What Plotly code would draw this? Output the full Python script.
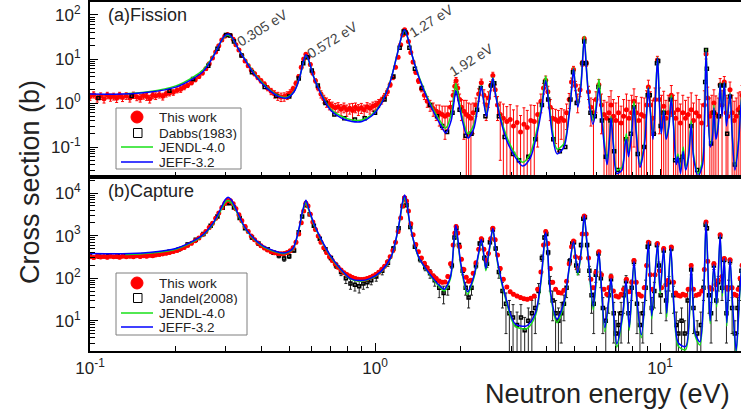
import plotly.graph_objects as go

# ---------------- data ----------------
# Fission cross section curves (E in eV, sigma in b)
fission_jeff = [(0.10,1.6),(0.13,1.6),(0.16,1.75),(0.20,2.3),(0.23,3.6),(0.25,5.3),(0.27,11),(0.285,22),(0.295,32),(0.305,37),(0.315,31),(0.33,18),(0.35,9.5),(0.38,4.2),(0.42,2.1),(0.46,1.4),(0.49,1.3),(0.52,1.8),(0.545,4.0),(0.56,8.5),(0.572,12.5),(0.585,9.5),(0.61,3.8),(0.65,1.5),(0.70,0.68),(0.76,0.46),(0.83,0.38),(0.90,0.38),(0.97,0.5),(1.05,0.95),(1.13,3.0),(1.20,14),(1.24,33),(1.27,46),(1.30,32),(1.35,12),(1.43,3.6),(1.55,1.0),(1.68,0.36),(1.77,0.21),(1.85,0.4),(1.89,1.0),(1.92,1.9),(1.95,1.3),(2.02,0.42),(2.12,0.16),(2.22,0.26),(2.30,0.9),(2.36,2.4),(2.41,1.0),(2.46,0.5),(2.52,1.2),(2.59,3.7),(2.65,1.5),(2.75,0.45),(2.9,0.14),(3.1,0.06),(3.3,0.037),(3.5,0.055),(3.7,0.2),(3.85,0.8),(3.97,3.2),(4.08,0.8),(4.2,0.17),(4.35,0.07),(4.6,0.1),(4.8,0.55),(4.9,2.2),(4.97,5.9),(5.05,2.0),(5.15,0.8),(5.28,2.5),(5.42,28),(5.52,5.5),(5.65,0.9),(5.82,0.33),(5.98,0.8),(6.1,2.2),(6.22,0.6),(6.38,0.1),(6.52,0.04),(6.65,0.15),(6.73,0.46),(6.85,0.12),(7.05,0.025),(7.35,0.03),(7.55,0.12),(7.62,0.15),(7.75,0.06),(7.95,0.2),(8.1,0.85),(8.25,0.2),(8.5,0.035),(8.8,0.1),(9.0,0.8),(9.1,2.2),(9.25,0.6),(9.45,0.15),(9.65,1.5),(9.8,10.5),(9.95,1.0),(10.1,0.2),(10.3,0.66),(10.5,0.15),(10.75,0.3),(10.95,1.3),(11.15,0.3),(11.4,0.04),(11.55,0.06),(11.8,0.025),(12.05,0.08),(12.3,0.03),(12.6,0.06),(12.86,0.33),(13.1,0.06),(13.6,0.022),(14.1,0.04),(14.35,0.6),(14.5,15),(14.7,1.0),(15.0,0.1),(15.25,0.15),(15.45,0.77),(15.7,0.15),(16.0,0.3),(16.25,2.7),(16.5,0.5),(16.8,2.9),(17.1,0.3),(17.6,1.6),(17.9,0.2),(18.3,0.03),(18.8,0.1),(19.2,0.77),(19.6,3.0)]

fission_jendl = [(0.133,1.62),(0.16,1.8),(0.20,2.45),(0.23,3.9),(0.25,5.8),(0.27,11.5),(0.285,22),(0.295,31),(0.305,35),(0.315,30),(0.33,18),(0.35,9.8),(0.38,4.4),(0.42,2.2),(0.46,1.45),(0.49,1.35),(0.52,1.85),(0.545,4.0),(0.56,8.2),(0.572,12),(0.585,9.2),(0.61,3.9),(0.65,1.55),(0.70,0.72),(0.76,0.5),(0.83,0.41),(0.90,0.41),(0.97,0.53),(1.05,1.0),(1.13,3.1),(1.20,14),(1.24,32),(1.27,44),(1.30,31),(1.35,12),(1.43,3.8),(1.55,1.1),(1.68,0.42),(1.77,0.27),(1.85,0.55),(1.89,1.4),(1.92,2.8),(1.95,1.7),(2.02,0.5),(2.12,0.2),(2.22,0.32),(2.30,1.0),(2.36,2.5),(2.41,1.1),(2.46,0.55),(2.52,1.3),(2.59,3.8),(2.65,1.6),(2.75,0.5),(2.9,0.17),(3.1,0.07),(3.3,0.045),(3.5,0.07),(3.7,0.25),(3.85,1.0),(3.97,4.1),(4.08,1.0),(4.2,0.22),(4.35,0.09),(4.6,0.12),(4.8,0.6),(4.9,2.4),(4.97,6.3),(5.05,2.2),(5.15,0.9),(5.28,2.8),(5.42,33),(5.52,6),(5.65,1.0),(5.82,0.4),(5.98,1.0),(6.1,3.5),(6.22,0.8),(6.38,0.13),(6.52,0.05),(6.65,0.18),(6.73,0.5),(6.85,0.14),(7.05,0.03),(7.35,0.035),(7.55,0.14),(7.62,0.2),(7.75,0.07),(7.95,0.25),(8.1,1.1),(8.25,0.25),(8.5,0.04),(8.8,0.12),(9.0,0.9),(9.1,2.3),(9.25,0.7),(9.45,0.17),(9.65,1.6),(9.8,11),(9.95,1.1),(10.1,0.22),(10.3,0.7),(10.5,0.17),(10.75,0.35),(10.95,1.5),(11.15,0.35),(11.4,0.045),(11.55,0.07),(11.8,0.03),(12.05,0.1),(12.3,0.035),(12.6,0.07),(12.86,0.4),(13.1,0.07),(13.6,0.025),(14.1,0.05),(14.35,0.7),(14.5,17),(14.7,1.1),(15.0,0.12),(15.25,0.17),(15.45,0.9),(15.7,0.17),(16.0,0.35),(16.25,2.9),(16.5,0.55),(16.8,3.0),(17.1,0.35),(17.6,1.7),(17.9,0.22),(18.3,0.035),(18.8,0.12),(19.2,0.85),(19.6,3.2)]

# Capture cross section curves
capture_jeff = [(0.10,380),(0.13,375),(0.16,400),(0.20,500),(0.245,960),(0.27,1950),(0.288,4400),(0.298,7000),(0.305,8000),(0.313,7000),(0.325,4200),(0.353,1400),(0.398,620),(0.45,425),(0.48,390),(0.515,500),(0.54,1400),(0.558,4000),(0.572,6800),(0.586,4200),(0.61,1950),(0.645,860),(0.70,325),(0.76,160),(0.82,98),(0.89,88),(0.96,98),(1.05,145),(1.14,325),(1.21,1660),(1.245,5500),(1.27,9000),(1.295,5500),(1.33,1660),(1.42,325),(1.55,130),(1.70,63),(1.75,55),(1.84,110),(1.89,700),(1.92,1750),(1.95,900),(2.0,220),(2.11,48),(2.22,110),(2.31,400),(2.36,820),(2.41,350),(2.45,170),(2.52,500),(2.59,1500),(2.64,600),(2.7,220),(2.87,37),(3.1,8.5),(3.4,7.6),(3.65,15),(3.82,88),(3.92,600),(3.97,1200),(4.03,500),(4.12,51),(4.35,11),(4.6,27),(4.8,180),(4.97,730),(5.14,135),(5.3,500),(5.42,3000),(5.52,900),(5.6,305),(5.83,22),(6.0,150),(6.1,400),(6.2,100),(6.4,6.9),(6.6,30),(6.73,100),(6.85,20),(7.05,2.9),(7.4,15),(7.6,90),(7.8,7),(8.1,250),(8.3,30),(8.6,4.7),(8.9,60),(9.1,720),(9.35,13),(9.8,660),(10.0,50),(10.3,500),(10.55,15),(10.9,530),(11.2,20),(11.6,3),(12.3,2.5),(12.86,180),(13.3,5),(13.8,3.2),(14.2,30),(14.5,2100),(14.8,60),(15.0,10),(15.45,210),(15.8,25),(16.25,1070),(16.55,45),(16.8,290),(17.15,9),(17.6,275),(18.0,20),(18.5,2),(19.0,40),(19.3,160),(19.6,800)]

capture_jendl = [(0.133,360),(0.16,385),(0.20,480),(0.245,920),(0.27,1850),(0.288,4000),(0.298,6000),(0.305,6700),(0.313,6000),(0.325,3900),(0.353,1350),(0.398,600),(0.45,410),(0.48,375),(0.515,480),(0.54,1350),(0.558,3700),(0.572,6000),(0.586,3900),(0.61,1850),(0.645,830),(0.70,315),(0.76,155),(0.82,95),(0.89,85),(0.96,95),(1.05,140),(1.14,315),(1.21,1600),(1.245,5000),(1.27,8000),(1.295,5000),(1.33,1600),(1.42,315),(1.55,125),(1.70,58),(1.75,50),(1.84,100),(1.89,620),(1.92,1550),(1.95,800),(2.0,200),(2.11,42),(2.22,100),(2.31,370),(2.36,760),(2.41,320),(2.45,150),(2.52,460),(2.59,1400),(2.64,550),(2.7,200),(2.87,33),(3.1,7.5),(3.4,6.5),(3.65,13),(3.82,80),(3.92,560),(3.97,1100),(4.03,460),(4.12,45),(4.35,9),(4.6,24),(4.8,165),(4.97,680),(5.14,120),(5.3,460),(5.42,2800),(5.52,820),(5.6,280),(5.83,18),(6.0,135),(6.1,370),(6.2,90),(6.4,5.5),(6.6,27),(6.73,92),(6.85,17),(7.05,2.4),(7.4,13),(7.6,85),(7.8,6),(8.1,230),(8.3,26),(8.6,4),(8.9,55),(9.1,680),(9.35,11),(9.8,620),(10.0,42),(10.3,470),(10.55,12),(10.9,500),(11.2,17),(11.6,2.5),(12.3,2.1),(12.86,165),(13.3,4.3),(13.8,2.7),(14.2,26),(14.5,2000),(14.8,52),(15.0,8.5),(15.45,195),(15.8,21),(16.25,1000),(16.55,38),(16.8,270),(17.15,7.5),(17.6,255),(18.0,17),(18.5,1.7),(19.0,35),(19.3,150),(19.6,750)]

# This work, fission (E, sigma, error)
fission_this_work = [(0.100,1.40,0.25),(0.103,1.55,0.25),(0.106,1.30,0.25),(0.109,1.45,0.25),(0.112,1.25,0.25),(0.115,1.50,0.25),(0.118,1.35,0.25),(0.121,1.42,0.25),(0.124,1.28,0.25),(0.127,1.50,0.25),(0.130,1.33,0.25),(0.134,1.46,0.25),(0.138,1.30,0.25),(0.142,1.52,0.25),(0.146,1.38,0.25),(0.150,1.30,0.25),(0.154,1.48,0.25),(0.158,1.40,0.25),(0.162,1.25,0.25),(0.166,1.50,0.25),(0.170,1.45,0.25),(0.175,1.55,0.25),(0.180,1.42,0.25),(0.185,1.62,0.25),(0.190,1.70,0.25),(0.196,1.75,0.25),(0.202,1.95,0.25),(0.208,2.05,0.3),(0.214,2.30,0.3),(0.220,2.55,0.3),(0.227,2.90,0.3),(0.234,3.40,0.35),(0.241,4.00,0.4),(0.248,4.80,0.45),(0.255,6.0,0.5),(0.262,7.8,0.6),(0.269,10.5,0.8),(0.276,14.5,1.0),(0.283,20,1.3),(0.290,27,1.6),(0.297,33,2),(0.304,36,2),(0.311,34,2),(0.318,28,1.8),(0.325,21,1.4),(0.333,16,1.1),(0.341,12,0.9),(0.350,9.0,0.7),(0.359,7.0,0.6),(0.368,5.6,0.5),(0.378,4.6,0.45),(0.388,3.8,0.4),(0.398,3.2,0.35),(0.409,2.7,0.3),(0.420,2.2,0.3),(0.432,1.85,0.3),(0.444,1.6,0.3),(0.456,1.45,0.3),(0.468,1.38,0.3),(0.480,1.40,0.3),(0.492,1.50,0.3),(0.504,1.70,0.3),(0.516,2.1,0.3),(0.528,2.8,0.35),(0.540,4.0,0.4),(0.551,6.5,0.5),(0.562,10,0.7),(0.572,12.8,0.8),(0.582,11,0.7),(0.593,7.5,0.6),(0.605,4.8,0.45),(0.618,3.2,0.35),(0.632,2.2,0.3),(0.646,1.6,0.3),(0.661,1.25,0.25),(0.676,1.05,0.25),(0.692,0.95,0.25),(0.708,0.85,0.2),(0.725,0.78,0.2),(0.742,0.82,0.2),(0.760,0.72,0.2),(0.778,0.80,0.2),(0.796,0.70,0.2),(0.815,0.76,0.2),(0.834,0.68,0.3),(0.854,0.80,0.2),(0.874,0.72,0.2),(0.895,0.78,0.2),(0.916,0.70,0.2),(0.938,0.82,0.2),(0.960,0.76,0.2),(0.983,0.85,0.2),(1.006,0.90,0.2),(1.030,1.00,0.2),(1.055,1.15,0.2),(1.080,1.40,0.25),(1.105,1.80,0.3),(1.130,2.6,0.3),(1.155,3.8,0.4),(1.180,6.5,0.5),(1.205,11,0.8),(1.230,21,1.3),(1.250,35,2),(1.270,46,3),(1.290,38,2.5),(1.310,25,1.6),(1.335,14,1),(1.360,8.5,0.7),(1.390,5,0.5),(1.420,3.2,0.4),(1.455,2.1,0.3),(1.490,1.5,0.3),(1.525,1.1,0.3),(1.560,0.9,0.25),(1.600,0.75,0.25),(1.640,0.65,0.25),(1.680,0.60,0.3),(1.720,0.55,0.3),(1.760,0.50,0.35),(1.800,0.55,0.3),(1.840,0.8,0.3),(1.880,1.5,0.4),(1.905,2.4,0.5),(1.925,3.2,0.6),(1.950,2.2,0.5),(1.980,1.2,0.4),(2.010,0.8,0.4),(2.050,0.65,0.5),(2.090,0.55,0.6),(2.130,0.5,0.5),(2.170,0.45,0.5),(2.210,0.6,0.4),(2.260,0.9,0.4),(2.310,1.6,0.5),(2.360,2.9,0.6),(2.410,1.5,0.5),(2.455,0.9,0.5),(2.500,1.3,0.5),(2.545,2.5,0.6),(2.590,4.2,0.8),(2.640,2.0,0.6),(2.690,0.9,0.5),(2.750,0.55,0.5),(2.820,0.45,0.5),(2.900,0.38,0.45),(2.980,0.42,0.5),(3.060,0.30,0.4),(3.150,0.36,0.5),(3.240,0.22,0.3),(3.330,0.33,0.45),(3.420,0.28,0.4),(3.520,0.40,0.5),(3.620,0.38,0.5),(3.720,0.55,0.45),(3.820,1.1,0.5),(3.900,2.2,0.6),(3.970,3.3,0.8),(4.040,1.8,0.6),(4.120,0.8,0.4),(4.200,0.45,0.3),(4.300,0.42,0.3),(4.400,0.38,0.3),(4.500,0.45,0.3),(4.600,0.40,0.3),(4.700,0.6,0.35),(4.800,1.2,0.45),(4.890,3.0,0.7),(4.970,5.8,1),(5.050,2.5,0.6),(5.140,1.1,0.5),(5.240,2.0,0.6),(5.330,8,1.2),(5.420,29,3),(5.510,8,1.2),(5.610,1.8,0.6),(5.720,0.8,0.5),(5.840,0.6,0.6),(5.960,1.2,0.6),(6.100,2.6,0.8),(6.230,0.9,0.7),(6.360,0.55,0.6),(6.500,0.45,0.6),(6.620,0.6,0.8),(6.730,0.9,1),(6.860,0.5,0.7),(7.000,0.4,0.6),(7.150,0.6,0.8),(7.300,0.35,0.5),(7.450,0.5,0.7),(7.620,0.7,0.9),(7.780,0.45,0.7),(7.950,0.6,0.9),(8.100,1.1,1),(8.250,0.6,0.8),(8.420,0.4,0.6),(8.600,0.55,0.8),(8.800,0.5,0.8),(8.970,0.9,1),(9.100,2.3,1),(9.250,0.9,0.9),(9.420,0.45,0.7),(9.600,1.2,1),(9.790,9.5,2),(9.950,1.2,1),(10.120,0.6,0.9),(10.300,0.85,1),(10.480,0.45,0.7),(10.680,0.6,0.9),(10.950,1.5,1),(11.150,0.6,0.9),(11.350,0.45,0.7),(11.550,0.7,1),(11.780,0.35,0.6),(12.020,0.6,0.9),(12.280,0.45,0.7),(12.550,0.55,0.8),(12.860,0.7,1),(13.100,0.4,0.6),(13.400,0.6,0.9),(13.700,0.5,0.7),(14.000,0.35,0.6),(14.300,0.9,1),(14.500,13,3),(14.700,1.3,1),(14.950,0.5,0.8),(15.200,0.6,0.9),(15.450,1.0,1),(15.700,0.55,0.9),(16.000,0.5,0.8),(16.250,2.6,1),(16.500,0.9,1),(16.800,3.0,1),(17.050,0.6,0.9),(17.300,0.5,0.8),(17.600,2.0,1),(17.900,0.6,0.9),(18.200,0.4,0.7),(18.500,0.5,0.8),(18.800,0.7,1),(19.100,0.8,1),(19.400,1.5,1)]

# Dabbs (1983), fission (E, sigma)
fission_dabbs = [(0.107,1.3),(0.14,1.45),(0.19,1.9),(0.23,3.5),(0.26,7),(0.28,17),(0.30,35),(0.31,34),(0.32,25),(0.34,12),(0.37,5),(0.41,2.3),(0.45,1.45),(0.50,1.4),(0.54,3.6),(0.56,8),(0.58,11),(0.60,5.5),(0.63,2.5),(0.67,1.0),(0.72,0.55),(0.78,0.45),(0.85,0.42),(0.92,0.45),(1.0,0.6),(1.08,1.2),(1.16,4),(1.22,18),(1.26,42),(1.28,40),(1.32,18),(1.38,6),(1.46,2.2),(1.56,0.9),(1.65,0.5),(1.72,0.3),(1.79,0.22),(1.87,0.6),(1.93,1.7),(1.98,0.7),(2.08,0.18),(2.18,0.2),(2.28,0.7),(2.35,2.2),(2.44,0.5),(2.56,2.5),(2.62,2.8),(2.72,0.5),(2.85,0.17),(3.05,0.07),(3.2,0.05),(3.45,0.06),(3.65,0.15),(3.85,0.9),(3.95,3),(4.05,1.2),(4.22,0.15),(4.45,0.08),(4.65,0.1),(4.85,1.2),(4.95,5),(5.1,1.0),(5.35,8),(5.42,25),(5.5,8),(5.7,0.6),(5.9,0.5),(6.08,2.3),(6.25,0.4),(6.45,0.06),(6.7,0.4),(6.9,0.08),(7.1,0.03),(7.6,0.15),(7.9,0.2),(8.1,0.8),(8.35,0.07),(8.8,0.1),(9.05,1.5),(9.2,1.5),(9.5,0.2),(9.75,8),(9.85,9),(10.05,0.3),(10.3,0.6),(10.9,1.2),(11.3,0.05),(11.6,0.05),(12.0,0.06),(12.85,0.3),(13.5,0.03),(14.4,3),(14.5,16),(14.6,6),(15.1,0.12),(15.45,0.6),(16.1,0.5),(16.25,2.5),(16.8,2.5),(17.2,0.2),(17.6,1.4),(18.3,0.04),(19.2,0.6)]

# This work, capture (E, sigma)
capture_this_work = [(0.100,320),(0.103,305),(0.106,330),(0.109,315),(0.112,325),(0.115,310),(0.118,330),(0.121,318),(0.124,325),(0.127,312),(0.130,330),(0.134,320),(0.138,328),(0.142,318),(0.146,335),(0.150,325),(0.154,338),(0.158,330),(0.162,345),(0.166,338),(0.170,352),(0.175,360),(0.180,372),(0.185,385),(0.190,400),(0.196,425),(0.202,450),(0.208,490),(0.214,530),(0.220,590),(0.227,660),(0.234,760),(0.241,880),(0.248,1050),(0.255,1250),(0.262,1550),(0.269,1950),(0.276,2550),(0.283,3400),(0.290,4500),(0.297,5700),(0.304,6700),(0.311,6600),(0.318,5600),(0.325,4300),(0.333,3100),(0.341,2250),(0.350,1650),(0.359,1250),(0.368,980),(0.378,800),(0.388,670),(0.398,580),(0.409,510),(0.420,460),(0.432,420),(0.444,395),(0.456,380),(0.468,375),(0.480,380),(0.492,400),(0.504,440),(0.516,520),(0.528,700),(0.540,1100),(0.551,2000),(0.562,3800),(0.572,5800),(0.582,5000),(0.593,3200),(0.605,2100),(0.618,1400),(0.632,980),(0.646,700),(0.661,520),(0.676,400),(0.692,320),(0.708,260),(0.725,215),(0.742,180),(0.760,155),(0.778,135),(0.796,122),(0.815,112),(0.834,104),(0.854,98),(0.874,95),(0.895,93),(0.916,95),(0.938,98),(0.960,104),(0.983,112),(1.006,122),(1.030,138),(1.055,160),(1.080,190),(1.105,240),(1.130,320),(1.155,450),(1.180,700),(1.205,1250),(1.230,2600),(1.250,5000),(1.270,7800),(1.290,6500),(1.310,3800),(1.335,1900),(1.360,1050),(1.390,620),(1.420,420),(1.455,300),(1.490,225),(1.525,175),(1.560,140),(1.600,115),(1.640,98),(1.680,86),(1.720,80),(1.760,82),(1.800,110),(1.840,220),(1.880,600),(1.905,1150),(1.925,1650),(1.950,1150),(1.980,550),(2.010,280),(2.050,160),(2.090,105),(2.130,85),(2.170,90),(2.210,130),(2.260,230),(2.310,480),(2.360,850),(2.410,480),(2.455,260),(2.500,380),(2.545,850),(2.590,1500),(2.640,800),(2.690,350),(2.750,170),(2.820,95),(2.900,62),(2.980,48),(3.060,42),(3.150,38),(3.240,35),(3.330,33),(3.420,32),(3.520,34),(3.620,38),(3.720,55),(3.820,140),(3.900,600),(3.970,1250),(4.040,650),(4.120,170),(4.200,80),(4.300,55),(4.400,46),(4.500,45),(4.600,52),(4.700,85),(4.800,220),(4.890,550),(4.970,750),(5.050,320),(5.140,170),(5.240,300),(5.330,1100),(5.420,2900),(5.510,1100),(5.610,300),(5.720,95),(5.840,60),(5.960,140),(6.100,420),(6.230,120),(6.360,55),(6.500,42),(6.620,60),(6.730,110),(6.860,50),(7.000,38),(7.150,36),(7.300,42),(7.450,55),(7.620,95),(7.780,48),(7.950,80),(8.100,260),(8.250,80),(8.420,42),(8.600,38),(8.800,60),(8.970,200),(9.100,700),(9.250,120),(9.420,55),(9.600,120),(9.790,650),(9.950,150),(10.120,60),(10.300,500),(10.480,70),(10.680,90),(10.950,540),(11.150,80),(11.350,45),(11.550,40),(11.780,38),(12.020,42),(12.280,40),(12.550,55),(12.860,200),(13.100,55),(13.400,40),(13.700,42),(14.000,50),(14.300,160),(14.500,2100),(14.700,250),(14.950,60),(15.200,55),(15.450,220),(15.700,70),(16.000,90),(16.250,1050),(16.500,110),(16.800,290),(17.050,60),(17.300,55),(17.600,270),(17.900,60),(18.200,42),(18.500,40),(18.800,55),(19.100,100),(19.400,200)]

# Jandel (2008), capture (E, sigma, error)
capture_jandel = [(0.100,330,30),(0.108,320,30),(0.116,340,30),(0.125,330,30),(0.134,345,30),(0.144,335,30),(0.154,350,30),(0.165,360,30),(0.177,380,30),(0.19,420,35),(0.205,480,40),(0.22,620,50),(0.235,800,60),(0.25,1100,80),(0.265,1700,100),(0.28,2800,150),(0.292,4500,250),(0.30,5800,300),(0.31,5800,300),(0.32,4600,250),(0.335,2600,150),(0.35,1500,100),(0.37,900,70),(0.39,650,50),(0.42,480,40),(0.44,400,40),(0.46,340,40),(0.48,290,40),(0.50,330,40),(0.52,450,40),(0.54,1200,80),(0.555,2800,150),(0.572,5200,300),(0.59,3200,200),(0.61,1700,100),(0.64,850,60),(0.67,480,40),(0.70,300,30),(0.73,200,30),(0.76,140,25),(0.79,100,25),(0.82,75,20),(0.85,70,20),(0.88,65,20),(0.91,75,20),(0.94,80,20),(0.97,90,20),(1.01,110,25),(1.06,150,30),(1.11,230,40),(1.16,500,50),(1.21,1500,100),(1.25,5000,300),(1.27,7500,400),(1.29,5200,300),(1.33,1600,100),(1.38,550,50),(1.44,280,40),(1.50,180,30),(1.56,130,30),(1.62,90,25),(1.68,60,25),(1.74,45,20),(1.80,60,20),(1.86,200,30),(1.90,900,80),(1.93,1500,100),(1.97,600,60),(2.03,150,30),(2.08,60,20),(2.13,35,15),(2.18,60,20),(2.26,200,30),(2.33,650,60),(2.37,780,60),(2.42,300,40),(2.47,220,40),(2.53,700,60),(2.59,1400,100),(2.65,500,50),(2.72,140,40),(2.80,50,30),(2.88,25,20),(2.96,15,15),(3.05,12,12),(3.15,8,8),(3.25,12,12),(3.35,6,6),(3.45,10,10),(3.55,15,15),(3.65,20,15),(3.75,50,25),(3.85,300,50),(3.93,900,80),(3.99,1100,100),(4.05,400,50),(4.12,80,30),(4.2,30,20),(4.3,15,15),(4.4,10,10),(4.5,15,12),(4.6,25,15),(4.7,60,25),(4.82,250,40),(4.92,650,60),(4.99,700,60),(5.08,200,40),(5.16,150,30),(5.28,600,60),(5.38,2500,200),(5.45,2700,200),(5.55,600,60),(5.65,150,40),(5.75,40,25),(5.85,25,20),(5.95,120,40),(6.08,380,50),(6.2,100,40),(6.3,20,15),(6.45,10,10),(6.6,40,25),(6.73,95,30),(6.88,15,12),(7.0,5,5),(7.15,8,8),(7.3,15,12),(7.45,40,25),(7.6,85,30),(7.75,15,12),(7.95,60,30),(8.1,240,40),(8.3,25,20),(8.5,8,8),(8.7,15,12),(8.9,60,30),(9.05,550,60),(9.15,650,60),(9.35,20,15),(9.55,50,30),(9.75,600,60),(9.9,200,40),(10.05,40,25),(10.3,450,50),(10.5,30,20),(10.75,80,30),(10.95,500,60),(11.15,40,25),(11.4,8,8),(11.6,5,5),(11.9,10,10),(12.2,5,5),(12.5,30,25),(12.86,160,40),(13.1,20,15),(13.5,5,5),(13.9,8,8),(14.2,60,30),(14.45,1800,150),(14.6,1500,150),(14.85,40,25),(15.1,15,12),(15.45,200,40),(15.75,30,20),(16.0,80,30),(16.25,950,100),(16.5,60,30),(16.8,270,40),(17.1,15,12),(17.4,60,30),(17.6,250,40),(17.9,20,15),(18.3,5,5),(18.7,20,15),(19.0,60,30),(19.3,150,40)]

# Tick labels and texts
x_tick_vals = [0.1, 1, 10]
x_tick_text = ["10<sup>-1</sup>", "10<sup>0</sup>", "10<sup>1</sup>"]
fis_tick_vals = [0.1, 1, 10, 100]
fis_tick_text = ["10<sup>-1</sup>", "10<sup>0</sup>", "10<sup>1</sup>", "10<sup>2</sup>"]
cap_tick_vals = [10, 100, 1000, 10000]
cap_tick_text = ["10<sup>1</sup>", "10<sup>2</sup>", "10<sup>3</sup>", "10<sup>4</sup>"]
peak_labels = ["0.305 eV", "0.572 eV", "1.27 eV", "1.92 eV"]
legend_top = ["This work", "Dabbs(1983)", "JENDL-4.0", "JEFF-3.2"]
legend_bottom = ["This work", "Jandel(2008)", "JENDL-4.0", "JEFF-3.2"]

# ---------------- layout helpers ----------------
W, H = 741, 412
ML, MR, MT, MB = 90, 0, 2, 61
PW, PH = W - ML - MR, H - MT - MB


def fx(px):
    return (px - ML) / PW


def fy(py):
    return (H - MB - py) / PH


SPLIT = fy(177)
FONT = "Liberation Sans, Arial, sans-serif"
TXT = "#222222"
RED, GREEN, BLUE, BLK = "#ff0000", "#19e019", "#0000ff", "#000000"


def cols(rows):
    return [list(c) for c in zip(*rows)]


def minor_vals(lo_dec, hi_dec):
    return [m * 10 ** d for d in range(lo_dec, hi_dec + 1) for m in range(2, 10)]


fig = go.Figure()

# ---- top panel: fission ----
e, s, er = cols(fission_this_work)
fig.add_trace(go.Scatter(x=e, y=s, mode="markers", xaxis="x", yaxis="y",
                         marker=dict(color=RED, size=5),
                         error_y=dict(type="data", array=er, color=RED, thickness=1, width=1.5),
                         showlegend=False))
e, s = cols(fission_dabbs)
fig.add_trace(go.Scatter(x=e, y=s, mode="markers", xaxis="x", yaxis="y",
                         marker=dict(symbol="square-open", color=BLK, size=3, line=dict(width=1.5)),
                         showlegend=False))
e, s = cols(fission_jendl)
fig.add_trace(go.Scatter(x=e, y=s, mode="lines", xaxis="x", yaxis="y",
                         line=dict(color=GREEN, width=1.5, shape="spline", smoothing=0.8), showlegend=False))
e, s = cols(fission_jeff)
fig.add_trace(go.Scatter(x=e, y=s, mode="lines", xaxis="x", yaxis="y",
                         line=dict(color=BLUE, width=1.5, shape="spline", smoothing=0.8), showlegend=False))

# ---- bottom panel: capture ----
e, s, er = cols(capture_jandel)
fig.add_trace(go.Scatter(x=e, y=s, mode="markers", xaxis="x2", yaxis="y2",
                         marker=dict(symbol="square-open", color=BLK, size=3, line=dict(width=1.5)),
                         error_y=dict(type="data", array=er, color="#222222", thickness=1, width=1.5),
                         showlegend=False))
e, s = cols(capture_this_work)
fig.add_trace(go.Scatter(x=e, y=s, mode="markers", xaxis="x2", yaxis="y2",
                         marker=dict(color=RED, size=5),
                         error_y=dict(type="percent", value=8, color=RED, thickness=1, width=1.5),
                         showlegend=False))
e, s = cols(capture_jendl)
fig.add_trace(go.Scatter(x=e, y=s, mode="lines", xaxis="x2", yaxis="y2",
                         line=dict(color=GREEN, width=1.5, shape="spline", smoothing=0.8), showlegend=False))
e, s = cols(capture_jeff)
fig.add_trace(go.Scatter(x=e, y=s, mode="lines", xaxis="x2", yaxis="y2",
                         line=dict(color=BLUE, width=1.5, shape="spline", smoothing=0.8), showlegend=False))

axis_common = dict(type="log", showline=True, linecolor="black", linewidth=2,
                   ticks="inside", ticklen=8, tickwidth=1, tickcolor="black",
                   showgrid=False, zeroline=False,
                   tickfont=dict(family=FONT, size=17, color=TXT))
x_minor = dict(tickmode="array", tickvals=minor_vals(-1, 1), ticks="inside",
               ticklen=5, tickwidth=1, tickcolor="black")

fig.update_layout(
    width=W, height=H,
    margin=dict(l=ML, r=MR, t=MT, b=MB),
    paper_bgcolor="white", plot_bgcolor="white",
    showlegend=False,
    font=dict(family=FONT, color=TXT),
    xaxis=dict(axis_common, domain=[0, 1], anchor="y", range=[-1, 1.284], mirror=True,
               tickvals=x_tick_vals, ticktext=x_tick_text, showticklabels=False, minor=x_minor),
    xaxis2=dict(axis_common, domain=[0, 1], anchor="y2", range=[-1, 1.284], mirror=True,
                matches="x", tickvals=x_tick_vals, ticktext=x_tick_text, minor=x_minor,
                ticklabelstandoff=1),
    yaxis=dict(axis_common, domain=[SPLIT, 1], anchor="x", range=[-1.68, 2.295],
               tickvals=fis_tick_vals, ticktext=fis_tick_text, ticklabelstandoff=4,
               minor=dict(tickmode="array", tickvals=minor_vals(-2, 2), ticks="inside",
                          ticklen=5, tickwidth=1, tickcolor="black")),
    yaxis2=dict(axis_common, domain=[0, SPLIT], anchor="x2", range=[0.29, 4.378],
                tickvals=cap_tick_vals, ticktext=cap_tick_text, ticklabelstandoff=4,
                minor=dict(tickmode="array", tickvals=minor_vals(0, 4), ticks="inside",
                           ticklen=5, tickwidth=1, tickcolor="black")),
)

ann = []
shapes = []

# panel labels
ann.append(dict(text="(a)Fission", x=fx(106), y=fy(15), xref="paper", yref="paper",
                xanchor="left", yanchor="middle", showarrow=False,
                font=dict(family=FONT, size=18, color=TXT)))
ann.append(dict(text="(b)Capture", x=fx(106), y=fy(191), xref="paper", yref="paper",
                xanchor="left", yanchor="middle", showarrow=False,
                font=dict(family=FONT, size=18, color=TXT)))

# resonance labels
for txt, (cx, cy) in zip(peak_labels, [(262, 28), (332, 40), (431, 21), (471, 60)]):
    ann.append(dict(text=txt, x=fx(cx), y=fy(cy), xref="paper", yref="paper",
                    xanchor="center", yanchor="middle", showarrow=False, textangle=-32,
                    font=dict(family=FONT, size=14, color="#444444")))

# axis titles
ann.append(dict(text="Cross section (b)", x=fx(30), y=fy(182), xref="paper", yref="paper",
                xanchor="center", yanchor="middle", showarrow=False, textangle=-90,
                font=dict(family=FONT, size=27, color=TXT)))
ann.append(dict(text="Neutron energy (eV)", x=fx(732), y=fy(394), xref="paper", yref="paper",
                xanchor="right", yanchor="middle", showarrow=False, height=30,
                font=dict(family=FONT, size=27, color=TXT)))


# custom legends
def legend(labels, box, rows):
    x0, y0, x1, y1 = box
    shapes.append(dict(type="rect", xref="paper", yref="paper", x0=fx(x0), x1=fx(x1),
                       y0=fy(y1), y1=fy(y0), line=dict(color="#7f7f7f", width=1),
                       fillcolor="white", layer="above"))
    r0, r1, r2, r3 = rows
    shapes.append(dict(type="circle", xref="paper", yref="paper", x0=fx(131), x1=fx(143),
                       y0=fy(r0 + 6), y1=fy(r0 - 6), fillcolor=RED, line=dict(color=RED, width=1)))
    shapes.append(dict(type="rect", xref="paper", yref="paper", x0=fx(133.5), x1=fx(142),
                       y0=fy(r1 + 4.5), y1=fy(r1 - 4.5), fillcolor="white",
                       line=dict(color="black", width=1)))
    shapes.append(dict(type="line", xref="paper", yref="paper", x0=fx(121), x1=fx(153),
                       y0=fy(r2), y1=fy(r2), line=dict(color=GREEN, width=1.5)))
    shapes.append(dict(type="line", xref="paper", yref="paper", x0=fx(121), x1=fx(153),
                       y0=fy(r3), y1=fy(r3), line=dict(color=BLUE, width=1.5)))
    for t, r in zip(labels, rows):
        ann.append(dict(text=t, x=fx(157), y=fy(r), xref="paper", yref="paper",
                        xanchor="left", yanchor="middle", showarrow=False, height=14,
                        font=dict(family=FONT, size=13.5, color=TXT)))


legend(legend_top, (116, 108, 241, 169), (117, 133, 147, 162))
legend(legend_bottom, (116, 273, 247, 335), (283, 298, 313, 327))

fig.update_layout(annotations=ann, shapes=shapes)
fig.write_html("out.html", config={"displayModeBar": False},
               post_script="document.body.style.margin='0';document.body.style.overflow='hidden';")
